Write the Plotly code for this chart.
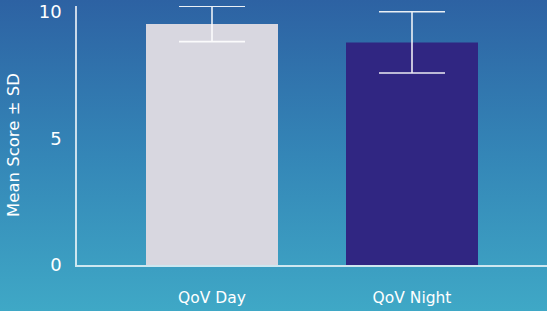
import base64
import plotly.graph_objects as go

categories = ["QoV Day", "QoV Night"]
means = [9.53, 8.80]
sds = [0.70, 1.21]
bar_colors = ["#D8D7E0", "#302682"]
y_ticks = [0, 5, 10]

W, H = 547, 311
FONT = "DejaVu Sans"

svg = f'''<svg xmlns="http://www.w3.org/2000/svg" width="{W}" height="{H}" preserveAspectRatio="none">
<defs><linearGradient id="g" x1="0" y1="0" x2="0" y2="1">
<stop offset="0" stop-color="#2D62A3"/><stop offset="0.5" stop-color="#3486B7"/><stop offset="1" stop-color="#3FA8C6"/>
</linearGradient></defs><rect width="100%" height="100%" fill="url(#g)"/></svg>'''
bg = "data:image/svg+xml;base64," + base64.b64encode(svg.encode()).decode()

x_pos = list(range(len(categories)))

fig = go.Figure()
fig.add_trace(go.Bar(
    x=x_pos, y=means, width=0.66,
    marker=dict(color=bar_colors, line=dict(width=0)),
    error_y=dict(type="data", array=sds, visible=True, color="rgba(255,255,255,0.9)",
                 thickness=1.6, width=33),
    hoverinfo="skip",
))

fig.update_layout(
    template="none",
    width=W, height=H,
    margin=dict(l=0, r=0, t=0, b=0, pad=0),
    paper_bgcolor="#3486B7",
    plot_bgcolor="rgba(0,0,0,0)",
    showlegend=False,
    font=dict(family=FONT, color="white"),
    images=[dict(source=bg, xref="paper", yref="paper", x=0, y=1, sizex=1, sizey=1,
                 sizing="stretch", layer="below", xanchor="left", yanchor="top")],
    xaxis=dict(domain=[77 / W, 1], range=[-0.675, 1.675], tickvals=x_pos, ticktext=categories,
               showgrid=False, zeroline=False, showline=True, linecolor="rgba(255,255,255,0.75)",
               linewidth=1.5, ticks="", ticklabelstandoff=18, tickfont=dict(size=15.5, color="white"),
               automargin=False, fixedrange=True),
    yaxis=dict(domain=[(H - 265) / H, (H - 6) / H], range=[0, 10.24], tickvals=y_ticks,
               showgrid=False, zeroline=False, showline=True, linecolor="rgba(255,255,255,0.75)",
               linewidth=1.5, ticks="", ticklabelstandoff=10, ticklabeloverflow="allow",
               tickfont=dict(size=18, color="white"), automargin=False, fixedrange=True),
    annotations=[dict(text="Mean Score ± SD", xref="paper", yref="paper", x=13 / W,
                      y=(H - 145) / H, xanchor="center", yanchor="middle", textangle=-90,
                      showarrow=False, font=dict(size=16.5, color="white", family=FONT))],
)

fig.write_html("out.html", config={"displayModeBar": False},
               post_script="document.body.style.margin='0';document.body.style.overflow='hidden';")
